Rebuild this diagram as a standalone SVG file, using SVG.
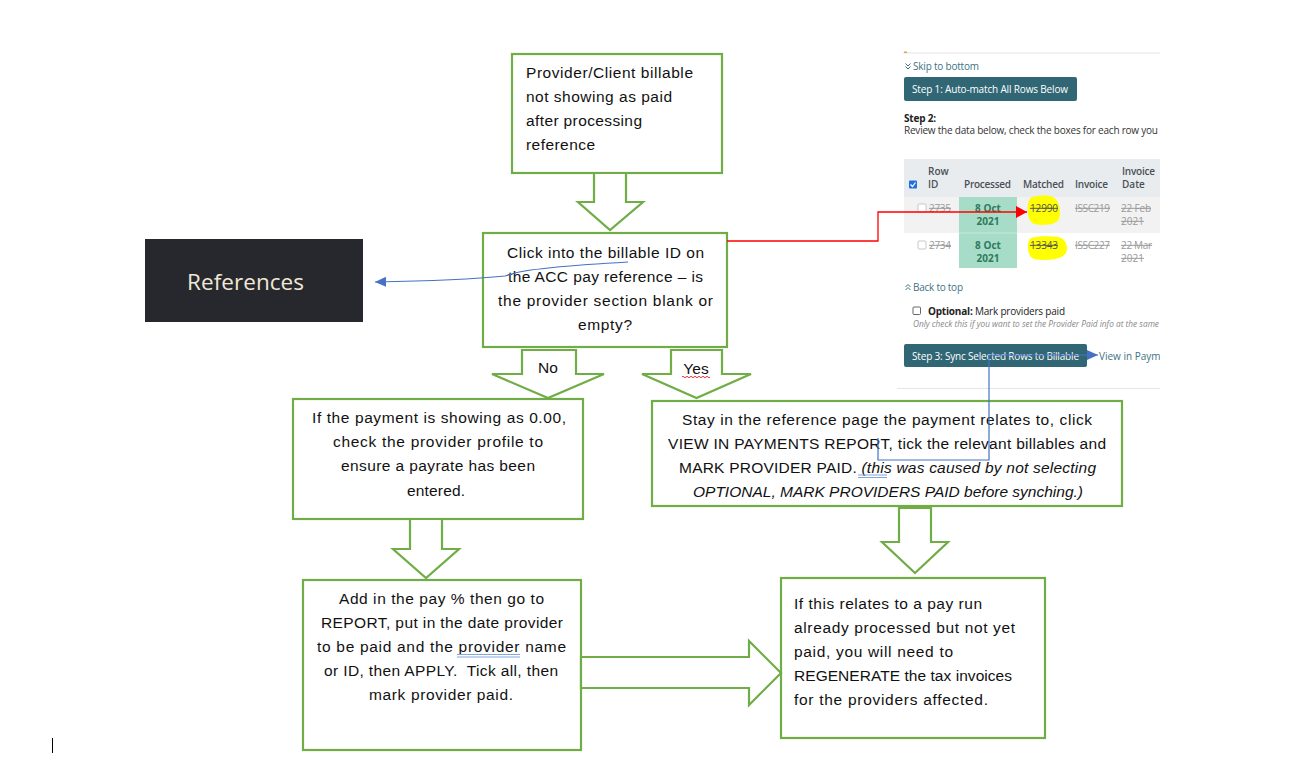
<svg xmlns="http://www.w3.org/2000/svg" width="1300" height="765" viewBox="0 0 1300 765">
<style>
.box{fill:#fff;stroke:#70ad47;stroke-width:2.2}
.barrow{fill:#fff;stroke:#70ad47;stroke-width:2.2;stroke-linejoin:miter}
.t{font-family:"Liberation Sans",Arial,sans-serif;font-size:15.5px;fill:#111}
.c{text-anchor:middle}
.ss{font-family:"Open Sans","Noto Sans",sans-serif;font-size:10px}
.hd{fill:#4a5056;font-weight:600}
.st{fill:#9a9a9a;text-decoration:line-through}
.gr{fill:#2f7a5c;font-weight:bold;text-anchor:middle}
.link{fill:#3d7382}
.btn{fill:#316775}
.btxt{fill:#fff}
.cb{fill:#fff;stroke:#bbb;stroke-width:0.8}
</style>
<defs>
<marker id="ab" markerUnits="userSpaceOnUse" markerWidth="12" markerHeight="10" refX="11" refY="5" orient="auto">
<path d="M0,0 L11,5 L0,10 Z" fill="#4472c4"/>
</marker>
<marker id="ar" markerUnits="userSpaceOnUse" markerWidth="12" markerHeight="12" refX="11" refY="6" orient="auto">
<path d="M0,0 L11,6 L0,12 Z" fill="#ff0000"/>
</marker>
<clipPath id="shot"><rect x="895" y="40" width="265" height="355"/></clipPath>
</defs>

<g id="references-image">
<rect x="145" y="239" width="218" height="83" fill="#27272e"/>
<text x="187" y="290" font-family="'Open Sans','Noto Sans',sans-serif" font-size="22.5" fill="#efe9d6" textLength="117">References</text>
</g>

<g id="screenshot" clip-path="url(#shot)" class="ss">
<rect x="903" y="52.5" width="260" height="1" fill="#e3e3e3"/>
<rect x="904" y="51.5" width="3" height="1.5" fill="#f0a040"/>
<path d="M905.5,63.5 l2.5,2.5 l2.5,-2.5 M905.5,66.5 l2.5,2.5 l2.5,-2.5" fill="none" stroke="#3d7382" stroke-width="1"/>
<text class="link" x="913" y="70" textLength="66">Skip to bottom</text>
<rect class="btn" x="904" y="77" width="173" height="24" rx="2"/>
<text class="btxt" x="912" y="93" textLength="156">Step 1: Auto-match All Rows Below</text>
<text x="904" y="122" font-weight="bold" fill="#222" textLength="32">Step 2:</text>
<text x="904" y="134" fill="#333" textLength="254">Review the data below, check the boxes for each row you</text>
<rect x="904" y="159" width="260" height="38" fill="#e9ecef"/>
<rect x="904" y="197" width="260" height="36" fill="#f2f2f2"/>
<rect x="904" y="233" width="260" height="35" fill="#fff"/>
<rect x="959" y="197" width="58" height="71" fill="#a6dcc8"/>
<rect x="959" y="232.5" width="58" height="1" fill="#c4e8da"/>
<rect x="909" y="180.5" width="8" height="8" rx="1" fill="#1f6fe0"/>
<path d="M910.5,184.5 l2,2 l3,-4" fill="none" stroke="#fff" stroke-width="1.2"/>
<text class="hd" x="928" y="175">Row</text>
<text class="hd" x="928" y="188">ID</text>
<text class="hd" x="964" y="188" textLength="47">Processed</text>
<text class="hd" x="1023" y="188" textLength="41">Matched</text>
<text class="hd" x="1075" y="188" textLength="33">Invoice</text>
<text class="hd" x="1122" y="175" textLength="33">Invoice</text>
<text class="hd" x="1122" y="188">Date</text>
<path d="M1032,197 C1026,199 1026,221 1034,224 C1044,226 1056,225 1059,219 C1062,210 1058,197 1050,196 C1043,195 1037,196 1032,197 Z" fill="#ffff00"/>
<path d="M1031,238 C1026,242 1027,257 1034,259 C1046,261 1062,260 1066,253 C1069,246 1065,238 1058,237 C1050,236 1038,236 1031,238 Z" fill="#ffff00"/>
<rect class="cb" x="918" y="204" width="8" height="8" rx="1"/>
<text class="st" x="929" y="212" textLength="22">2735</text>
<text class="gr" x="988" y="212">8 Oct</text>
<text class="gr" x="988" y="225">2021</text>
<text x="1030" y="212" fill="#555" text-decoration="line-through" textLength="28">12990</text>
<text class="st" x="1075" y="212" textLength="35">ISSC219</text>
<text class="st" x="1121" y="212" textLength="30">22 Feb</text>
<text class="st" x="1121" y="225">2021</text>
<rect class="cb" x="918" y="241" width="8" height="8" rx="1"/>
<text class="st" x="929" y="249" textLength="22">2734</text>
<text class="gr" x="988" y="249">8 Oct</text>
<text class="gr" x="988" y="262">2021</text>
<text x="1030" y="249" fill="#555" text-decoration="line-through" textLength="28">13343</text>
<text class="st" x="1075" y="249" textLength="35">ISSC227</text>
<text class="st" x="1121" y="249" textLength="31">22 Mar</text>
<text class="st" x="1121" y="262">2021</text>
<path d="M905.5,290 l2.5,-2.5 l2.5,2.5 M905.5,287 l2.5,-2.5 l2.5,2.5" fill="none" stroke="#3d7382" stroke-width="1"/>
<text class="link" x="913" y="291" textLength="50">Back to top</text>
<rect x="913" y="307" width="7.5" height="7.5" rx="1" fill="#fff" stroke="#555" stroke-width="0.9"/>
<text x="928" y="315" fill="#222" textLength="137"><tspan font-weight="bold">Optional:</tspan> Mark providers paid</text>
<text x="913" y="327" font-size="8.3" font-style="italic" fill="#888">Only check this if you want to set the Provider Paid info at the same</text>
<rect class="btn" x="904" y="344" width="183" height="23" rx="2"/>
<text class="btxt" x="912" y="360" textLength="167">Step 3: Sync Selected Rows to Billable</text>
<text class="link" x="1099" y="360">View in Payments</text>
<rect x="897" y="388" width="266" height="1" fill="#e6e6e6"/>
</g>

<g id="n1">
<rect class="box" x="512" y="54" width="210" height="119"/>
<text class="t" x="526" y="78" textLength="167">Provider/Client billable</text>
<text class="t" x="526" y="102" textLength="146">not showing as paid</text>
<text class="t" x="526" y="126" textLength="116">after processing</text>
<text class="t" x="526" y="150" textLength="69">reference</text>
</g>

<g id="n2">
<rect class="box" x="483" y="233" width="244" height="114"/>
<text class="t c" x="605.5" y="258" textLength="197">Click into the billable ID on</text>
<text class="t c" x="605.5" y="282" textLength="195">the ACC pay reference – is</text>
<text class="t c" x="605.5" y="306" textLength="215">the provider section blank or</text>
<text class="t c" x="605" y="330" textLength="54">empty?</text>
</g>

<g id="n3">
<rect class="box" x="293" y="399" width="290" height="120"/>
<text class="t c" x="439" y="423" textLength="254">If the payment is showing as 0.00,</text>
<text class="t c" x="438" y="447" textLength="210">check the provider profile to</text>
<text class="t c" x="438" y="471" textLength="194">ensure a payrate has been</text>
<text class="t c" x="436" y="496" textLength="58">entered.</text>
</g>

<g id="n4">
<rect class="box" x="303" y="580" width="278" height="170"/>
<text class="t c" x="441.5" y="604" textLength="205">Add in the pay % then go to</text>
<text class="t c" x="442" y="628" textLength="242">REPORT, put in the date provider</text>
<text class="t c" x="441.5" y="652" textLength="249">to be paid and the provider name</text>
<text class="t c" x="441" y="676" textLength="234" xml:space="preserve">or ID, then APPLY.  Tick all, then</text>
<text class="t c" x="441" y="700" textLength="144">mark provider paid.</text>
<path d="M457,654.5 H520 M457,657 H520" stroke="#7ea6e0" stroke-width="1"/>
</g>

<g id="n5">
<rect class="box" x="781" y="578" width="264" height="160"/>
<text class="t" x="794" y="609" textLength="188">If this relates to a pay run</text>
<text class="t" x="794" y="633" textLength="221">already processed but not yet</text>
<text class="t" x="794" y="657" textLength="159">paid, you will need to</text>
<text class="t" x="794" y="681" textLength="218">REGENERATE the tax invoices</text>
<text class="t" x="794" y="705" textLength="194">for the providers affected.</text>
</g>

<g id="n6">
<rect class="box" x="652" y="401" width="470" height="105"/>
<text class="t c" x="887" y="425" textLength="410">Stay in the reference page the payment relates to, click</text>
<text class="t c" x="887" y="449" textLength="438">VIEW IN PAYMENTS REPORT, tick the relevant billables and</text>
<text class="t c" x="887.5" y="473" textLength="417">MARK PROVIDER PAID. <tspan font-style="italic">(this was caused by not selecting</tspan></text>
<text class="t c" x="888" y="497" textLength="390" font-style="italic">OPTIONAL, MARK PROVIDERS PAID before synching.)</text>
<path d="M858,475 H887 M858,477.5 H887" stroke="#7ea6e0" stroke-width="1"/>
</g>

<g id="connectors">
<polygon class="barrow" points="594,173 626,173 626,202 643,202 610,230 578,202 594,202"/>
<polygon class="barrow" points="522,350 576,350 576,374 604,374 548,398 492,374 522,374"/>
<polygon class="barrow" points="671,350 722,350 722,374 751,374 696.5,398 642,374 671,374"/>
<polygon class="barrow" points="410,519 442,519 442,549 459,549 426,578 393,549 410,549"/>
<polygon class="barrow" points="899,508 931,508 931,542 948,542 915,573 882,542 899,542"/>
<polygon class="barrow" points="581,657 749,657 749,641 781,673 749,705 749,688 581,688"/>
<text class="t c" x="548" y="373">No</text>
<text class="t c" x="696" y="374">Yes</text>
<path d="M682,377 q1,-1.5 2,0 t2,0 t2,0 t2,0 t2,0 t2,0 t2,0 t2,0 t2,0 t2,0 t2,0 t2,0 t2,0 t2,0" fill="none" stroke="#e02020" stroke-width="0.9"/>
<path d="M628,262 C575,265 535,268 515,273 L505,276 C475,279 430,281 375,282" fill="none" stroke="#4472c4" stroke-width="1.2" marker-end="url(#ab)"/>
<path d="M727,241 H878 V212 H1027" fill="none" stroke="#ff0000" stroke-width="1.3" marker-end="url(#ar)"/>
<path d="M878,438 V460 H989 V355 H1098" fill="none" stroke="#4472c4" stroke-width="1.2" marker-end="url(#ab)"/>
</g>

<line x1="52.5" y1="738" x2="52.5" y2="753" stroke="#000" stroke-width="1"/>
</svg>
